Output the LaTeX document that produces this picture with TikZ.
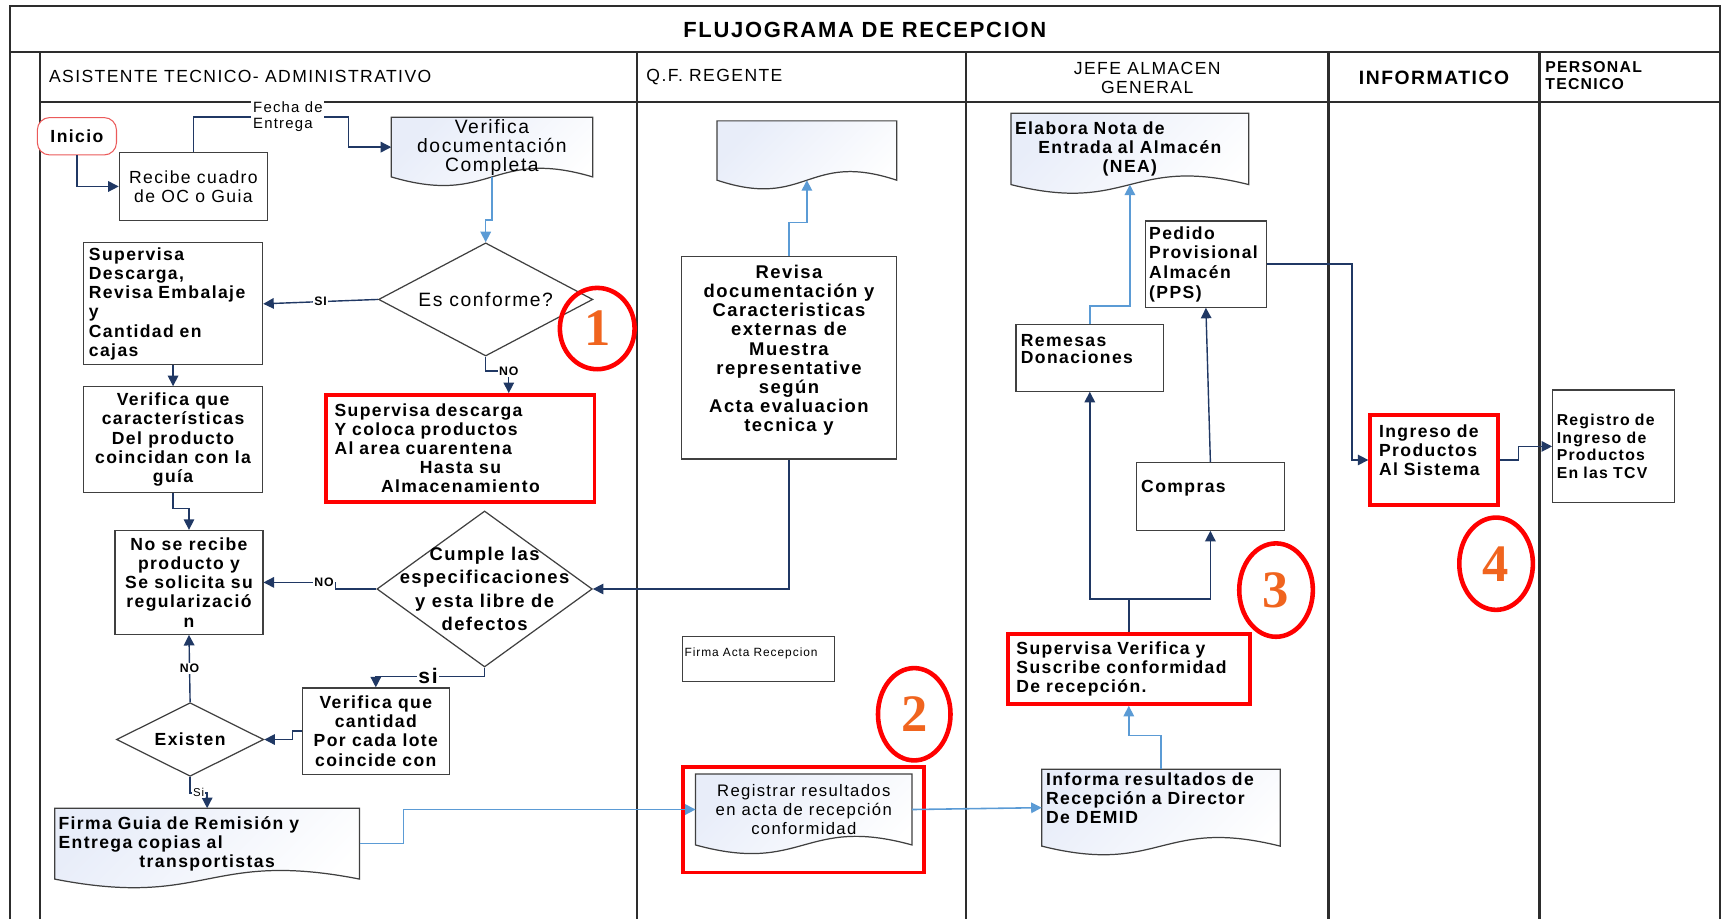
\documentclass[tikz,border=0pt]{standalone}
\usepackage{fontspec}
\setmainfont[LetterSpace=8]{Liberation Sans}
\newfontfamily\numfont{Liberation Serif}
\usetikzlibrary{arrows.meta,positioning,calc,shapes.geometric,backgrounds}
\definecolor{navyln}{RGB}{32,56,100}
\definecolor{skyln}{RGB}{91,155,213}
\definecolor{boxgray}{RGB}{64,64,64}
\definecolor{lanegray}{RGB}{45,45,45}
\definecolor{markred}{RGB}{255,0,0}
\definecolor{startred}{RGB}{235,90,90}
\definecolor{numorange}{RGB}{240,100,30}
\definecolor{docfill}{RGB}{232,237,249}
\tikzset{
  laneln/.style={line width=1.2pt, draw=lanegray},
  hdtext/.style={inner sep=0pt, font=\fontsize{10}{10.9}\selectfont},
  procbox/.style={draw=boxgray, line width=0.7pt, fill=white, inner sep=2pt, align=center,
    font=\fontsize{10}{10.9}\selectfont\bfseries},
  markbox/.style={procbox, draw=markred, line width=2.2pt},
  docnode/.style={inner sep=0pt, outer sep=0pt, align=center,
    font=\fontsize{10}{10.9}\selectfont\bfseries},
  docline/.style={draw=boxgray, line width=0.7pt, top color=docfill, bottom color=white,
    shading angle=45},
  decision/.style={diamond, draw=boxgray, line width=0.7pt, fill=white, inner sep=0pt},
  navyarr/.style={draw=navyln, line width=0.8pt, -{Triangle[length=6pt,width=6pt]}},
  navyln/.style={draw=navyln, line width=0.8pt},
  skyarr/.style={draw=skyln, line width=0.9pt, -{Triangle[length=6pt,width=6pt]}},
  tag/.style={fill=white, inner sep=0.6pt, font=\fontsize{7}{8}\selectfont\bfseries},
  bigtag/.style={fill=white, inner sep=0.6pt, font=\fontsize{12}{12}\selectfont\bfseries},
  smalltag/.style={fill=white, inner sep=0.6pt, font=\fontsize{6.5}{7}\selectfont},
  datelbl/.style={fill=white, inner sep=1pt, align=left, font=\fontsize{8.5}{9.2}\selectfont},
  stepnum/.style={ellipse, draw=markred, line width=2.6pt, inner sep=0pt, text=numorange,
    font=\numfont\bfseries\fontsize{30}{30}\selectfont},
  wh/.style 2 args={minimum width=#1*0.022cm, minimum height=#2*0.022cm},
}
\newcommand{\docwave}{17pt}
\newcommand{\docoutline}[1]{%
  \path[docline] (#1.north west) -- (#1.north east) -- (#1.south east)
    .. controls ($(#1.south)+(0,\docwave)$) and ($(#1.south)-(0,\docwave)$) .. (#1.south west) -- cycle;}

\begin{document}
\begin{tikzpicture}[x=0.022cm, y=-0.022cm]
  \useasboundingbox (0,0) rectangle (1568,836);
  % swimlanes
  \draw[laneln] (9,836) -- (9,5.5) -- (1565,5.5) -- (1565,836);
  \draw[laneln] (9,47) -- (1565,47);
  \draw[laneln] (36.4,47) -- (36.4,836);
  \draw[laneln] (36.4,92.5) -- (1565,92.5);
  \foreach \lx in {580,879,1209,1401}
    \draw[laneln] (\lx,47) -- (\lx,836);

  \node[inner sep=0pt, font=\fontsize{12.5}{14}\selectfont\bfseries] (title) at (787,27)
    {FLUJOGRAMA DE RECEPCION};
  \node[hdtext, anchor=west] (hdasis) at (44.4,69.8) {ASISTENTE TECNICO- ADMINISTRATIVO};
  \node[hdtext, anchor=west] (hdqf) at (588,69.8) {Q.F. REGENTE};
  \node[hdtext, align=center] (hdjefe) at (1044,70.7) {JEFE ALMACEN\\GENERAL};
  \node[hdtext, font=\fontsize{11}{12}\selectfont\bfseries] (hdinfo) at (1305,70.4) {INFORMATICO};
  \node[hdtext, anchor=west, align=left, font=\fontsize{9}{9.8}\selectfont\bfseries]
    (hdpers) at (1406,68.5) {PERSONAL\\TECNICO};

  % asistente tecnico
  \node[draw=startred, line width=0.6pt, rounded corners=7pt, fill=white, wh={72}{34},
    font=\fontsize{10}{11}\selectfont\bfseries] (inicio) at (70,124) {Inicio};
  \node[procbox, wh={134.8}{62.2}, font=\fontsize{10}{10.9}\selectfont]
    (recibe) at (176,169.7) {Recibe cuadro\\de OC o Guia};
  \node[docnode, wh={183.3}{54.2}, font=\fontsize{11}{10.8}\selectfont]
    (verifica) at (447.7,133.9) {Verifica\\documentación\\Completa};
  \node[decision, wh={195}{103},
    label={[font=\fontsize{11}{12}\selectfont]center:Es conforme?}] (esconf) at (442,272.5) {};
  \node[procbox, align=left, text width=3.37cm, inner xsep=0pt, wh={163}{111}]
    (supdesc) at (157.5,276.5) {Supervisa\\Descarga,\\Revisa Embalaje\\y\\Cantidad en\\cajas};
  \node[procbox, wh={163}{96}] (vercar) at (157.5,400)
    {Verifica que\\características\\Del producto\\coincidan con la\\guía};
  \node[markbox, text width=5.04cm, inner xsep=0pt, wh={244}{97}] (cuarent) at (419,408)
    {\makebox[\hsize][l]{Supervisa descarga}\\\makebox[\hsize][l]{Y coloca productos}\\
     \makebox[\hsize][l]{Al area cuarentena}\\Hasta su\\Almacenamiento};
  \node[procbox, wh={134.5}{94.5}] (nosere) at (172,530)
    {No se recibe\\producto y\\Se solicita su\\regularizació\\n};
  \node[decision, wh={196}{142},
    label={[align=center, font=\fontsize{10.5}{13.4}\selectfont\bfseries]center:{Cumple las\\especificaciones\\y esta libre de\\defectos}}]
    (cumple) at (441,536) {};
  \node[procbox, wh={134}{78.5}] (vercant) at (342,665.3)
    {Verifica que\\cantidad\\Por cada lote\\coincide con};
  \node[decision, wh={134}{67},
    label={[font=\fontsize{10}{11}\selectfont\bfseries]center:Existen}] (existen) at (173,673) {};
  \node[docnode, text width=5.95cm, wh={277.5}{64.5}] (firma) at (188.5,767.75)
    {\makebox[\hsize][l]{Firma Guia de Remisión y}\\\makebox[\hsize][l]{Entrega copias al}\\transportistas};

  % q.f. regente
  \node[docnode, wh={163.5}{54}] (emptydoc) at (734.3,137) {};
  \node[procbox, wh={196}{184}, font=\fontsize{10.5}{10.9}\selectfont\bfseries] (revisa) at (718,325.7)
    {Revisa\\documentación y\\Caracteristicas\\externas de\\Muestra\\representative\\según\\Acta evaluacion\\tecnica y\\\mbox{}};
  \node[procbox, align=left, text width=2.95cm, inner xsep=0pt, wh={138.5}{41},
    font=\fontsize{6.8}{8}\selectfont] (actafirma) at (690,599.5) {Firma Acta Recepcion\\\mbox{}};
  \node[draw=markred, line width=2.2pt, wh={219.5}{96}] (regfrm) at (731.3,746) {};
  \node[docnode, wh={197}{64.5}, font=\fontsize{9.5}{10.8}\selectfont] (registrar) at (731.5,736.7)
    {Registrar resultados\\en acta de recepción\\conformidad};

  % jefe almacen
  \node[docnode, text width=4.6cm, wh={216.5}{65}] (nea) at (1028.25,135.5)
    {\makebox[\hsize][l]{Elabora Nota de}\\Entrada al Almacén\\(NEA)};
  \node[procbox, align=left, text width=2.27cm, inner xsep=0pt, wh={110.5}{78.5},
    font=\fontsize{10}{11.2}\selectfont\bfseries] (pps) at (1097.4,240.3)
    {Pedido\\Provisional\\Almacén\\(PPS)};
  \node[procbox, align=left, text width=2.76cm, inner xsep=0pt, wh={134.5}{61},
    font=\fontsize{10}{10}\selectfont\bfseries] (remesas) at (991.75,325.5) {Remesas\\Donaciones\\\mbox{}};
  \node[procbox, align=left, text width=2.77cm, inner xsep=0pt, wh={135}{61.5}]
    (compras) at (1101.5,451.75) {Compras\\\mbox{}};
  \node[markbox, align=left, text width=4.5cm, inner xsep=0pt, wh={220.5}{63.5}]
    (supver) at (1027.25,608.8) {Supervisa Verifica y\\Suscribe conformidad\\De recepción.};
  \node[docnode, align=left, text width=4.6cm, wh={217}{70}] (informa) at (1056.5,735)
    {Informa resultados de\\Recepción a Director\\De DEMID\\\mbox{}};

  % informatico y personal tecnico
  \node[markbox, align=left, text width=2.2cm, inner xsep=0pt, wh={116}{82}]
    (ingreso) at (1305,418.6) {Ingreso de\\Productos\\Al Sistema\\\mbox{}};
  \node[procbox, align=left, text width=2.28cm, inner xsep=0pt, wh={111}{102.5},
    font=\fontsize{9}{10}\selectfont\bfseries] (registro) at (1468.5,406.25)
    {Registro de\\Ingreso de\\Productos\\En las TCV};

  \begin{scope}[on background layer]
    \docoutline{verifica}
    \docoutline{firma}
    \docoutline{emptydoc}
    \docoutline{registrar}
    \docoutline{nea}
    \docoutline{informa}
  \end{scope}

  % connectors
  \draw[navyarr] (inicio.south) |- (recibe.west);
  \draw[navyarr] (recibe.north) -- ++(0,-31.6)
    -- node[datelbl, pos=0.61]{Fecha de\\Entrega} ++(141,0) |- (verifica.west);
  \draw[skyarr] (verifica.south) -- ++(0,39) -| (esconf.north);
  \draw[navyarr] (esconf.west) -- node[tag]{SI} (supdesc.east);
  \draw[navyarr] (esconf.south) |- ($(cuarent.north)+(44,-20)$) node[tag]{NO} -- ++(0,20);
  \draw[navyarr] (supdesc.south) -- (vercar.north);
  \draw[navyarr] (vercar.south) -- ++(0,14) -| (nosere.north);
  \draw[navyarr] (revisa.south) |- (cumple.east);
  \draw[navyarr] (cumple.west) -- ++(-37,0) |- node[tag, pos=0.58]{NO} (nosere.east);
  \draw[navyarr] (cumple.south) -- ++(0,8) -| node[bigtag, pos=0.26]{si} (vercant.north);
  \draw[navyarr] (vercant.west) -- ++(-8.4,0) |- (existen.east);
  \draw[navyarr] (existen.north) -- node[tag]{NO} (nosere.south);
  \draw[navyarr] (existen.south) |- node[smalltag, pos=0.75]{Si} ($(firma.north)+(0,-14)$) -- (firma.north);
  \draw[skyarr] (revisa.north) -- ++(0,-30.6) -| (emptydoc.south);
  \draw[skyarr] (firma.east) -- ++(40,0) |- (registrar.west);
  \draw[skyarr] (registrar.east) -- (informa.west);
  \draw[skyarr] (informa.north) -- ++(0,-30.5) -| (supver.south);
  \draw[navyln] (supver.north) -- ++(0,-30) coordinate (fork);
  \draw[navyarr] (fork) -| (remesas.south);
  \draw[navyarr] (fork) -| (compras.south);
  \draw[navyarr] (compras.north) -- (pps.south);
  \draw[skyarr] (remesas.north) -- ++(0,-16) -| (nea.south);
  \draw[navyarr] (pps.east) -- ++(77.3,0) |- (ingreso.west);
  \draw[navyarr] (ingreso.east) -- ++(17,0) |- (registro.west);

  % step marks
  \node[stepnum, wh={68}{74}] (num1) at (543.5,299) {1};
  \node[stepnum, wh={66}{84}] (num2) at (832,650) {2};
  \node[stepnum, wh={67}{85}] (num3) at (1161.25,537) {3};
  \node[stepnum, wh={67}{84}] (num4) at (1361.5,513) {4};
\end{tikzpicture}
\end{document}
